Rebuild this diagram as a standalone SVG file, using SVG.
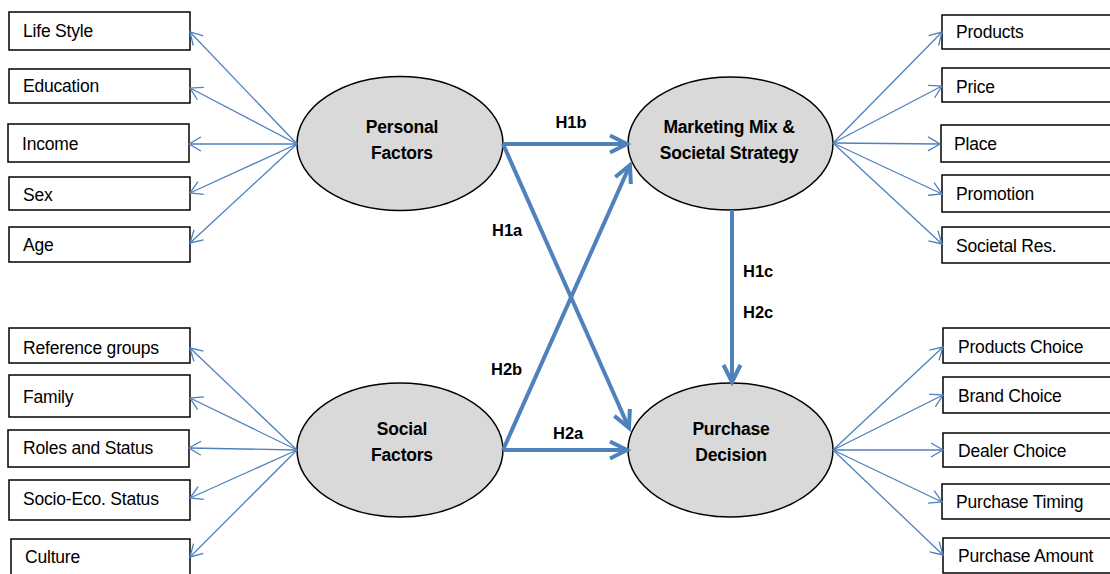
<svg xmlns="http://www.w3.org/2000/svg" width="1110" height="574" viewBox="0 0 1110 574">
<style>
.box{fill:#fff;stroke:#000;stroke-width:1.5}
.ell{fill:#D9D9D9;stroke:#000;stroke-width:1.5}
.bt{font-family:"Liberation Sans",Arial,sans-serif;font-size:17.5px;letter-spacing:-0.2px;fill:#000}
.et{font-family:"Liberation Sans",Arial,sans-serif;font-size:17.5px;font-weight:bold;letter-spacing:-0.2px;fill:#000;text-anchor:middle}
.ht{font-family:"Liberation Sans",Arial,sans-serif;font-size:16.5px;font-weight:bold;fill:#000}
.thin{stroke:#4F81BD;stroke-width:1.3;fill:none;marker-end:url(#mThin)}
.thick{stroke:#4F81BD;stroke-width:4;fill:none;marker-end:url(#mThick)}
</style>
<defs>
<marker id="mThin" markerUnits="userSpaceOnUse" viewBox="-14 -9 16 18" markerWidth="16" markerHeight="18" refX="0" refY="0" orient="auto" overflow="visible">
<path d="M-12,-7 L0,0 L-12,7" fill="none" stroke="#4F81BD" stroke-width="1.3"/>
</marker>
<marker id="mThick" markerUnits="userSpaceOnUse" viewBox="-20 -11 22 22" markerWidth="22" markerHeight="22" refX="0" refY="0" orient="auto" overflow="visible">
<path d="M-17,-8.5 L0,0 L-17,8.5" fill="none" stroke="#4F81BD" stroke-width="4" stroke-linejoin="miter"/>
</marker>
</defs>
<rect width="1110" height="574" fill="#fff"/>

<g id="n-lifestyle"><rect class="box" x="9" y="12" width="181" height="38"/><text class="bt" x="23" y="37">Life Style</text></g>
<g id="n-education"><rect class="box" x="9" y="69" width="181" height="34"/><text class="bt" x="23" y="92">Education</text></g>
<g id="n-income"><rect class="box" x="8" y="124" width="181" height="38"/><text class="bt" x="22" y="150">Income</text></g>
<g id="n-sex"><rect class="box" x="9" y="177" width="181" height="33"/><text class="bt" x="23" y="201">Sex</text></g>
<g id="n-age"><rect class="box" x="9" y="227" width="181" height="35"/><text class="bt" x="23" y="251">Age</text></g>

<g id="n-refgroups"><rect class="box" x="9" y="328" width="181" height="35"/><text class="bt" x="23" y="354">Reference groups</text></g>
<g id="n-family"><rect class="box" x="9" y="375" width="181" height="42"/><text class="bt" x="23" y="403">Family</text></g>
<g id="n-roles"><rect class="box" x="8" y="430" width="181" height="37"/><text class="bt" x="23" y="454">Roles and Status</text></g>
<g id="n-socio"><rect class="box" x="9" y="480" width="181" height="40"/><text class="bt" x="23" y="505">Socio-Eco. Status</text></g>
<g id="n-culture"><rect class="box" x="11" y="539" width="179" height="42"/><text class="bt" x="25" y="563">Culture</text></g>

<g id="n-products"><rect class="box" x="942" y="15" width="175" height="34"/><text class="bt" x="956" y="38">Products</text></g>
<g id="n-price"><rect class="box" x="942" y="68" width="175" height="34"/><text class="bt" x="956" y="93">Price</text></g>
<g id="n-place"><rect class="box" x="941" y="125" width="176" height="37"/><text class="bt" x="954" y="150">Place</text></g>
<g id="n-promotion"><rect class="box" x="942" y="175" width="175" height="37"/><text class="bt" x="956" y="200">Promotion</text></g>
<g id="n-societal"><rect class="box" x="942" y="227" width="175" height="36"/><text class="bt" x="956" y="252">Societal Res.</text></g>

<g id="n-prodchoice"><rect class="box" x="943" y="328" width="174" height="35"/><text class="bt" x="958" y="353">Products Choice</text></g>
<g id="n-brandchoice"><rect class="box" x="943" y="377" width="174" height="36"/><text class="bt" x="958" y="402">Brand Choice</text></g>
<g id="n-dealerchoice"><rect class="box" x="943" y="433" width="174" height="34"/><text class="bt" x="958" y="457">Dealer Choice</text></g>
<g id="n-timing"><rect class="box" x="942" y="484" width="175" height="35"/><text class="bt" x="956" y="508">Purchase Timing</text></g>
<g id="n-amount"><rect class="box" x="943" y="538" width="174" height="35"/><text class="bt" x="958" y="562">Purchase Amount</text></g>

<g id="n-personal"><ellipse class="ell" cx="400" cy="143.5" rx="103" ry="67"/><text class="et" x="402" y="133">Personal</text><text class="et" x="402" y="159">Factors</text></g>
<g id="n-marketing"><ellipse class="ell" cx="730.5" cy="143.5" rx="102.5" ry="66.5"/><text class="et" x="729" y="133">Marketing Mix &amp;</text><text class="et" x="729" y="159">Societal Strategy</text></g>
<g id="n-social"><ellipse class="ell" cx="400" cy="450" rx="103" ry="67"/><text class="et" x="402" y="435">Social</text><text class="et" x="402" y="461">Factors</text></g>
<g id="n-purchase"><ellipse class="ell" cx="730.5" cy="450" rx="102.5" ry="67"/><text class="et" x="731" y="435">Purchase</text><text class="et" x="731" y="461">Decision</text></g>

<g id="connectors">
<line class="thin" x1="297" y1="144" x2="190" y2="32"/>
<line class="thin" x1="297" y1="144" x2="190" y2="88"/>
<line class="thin" x1="297" y1="144" x2="189" y2="144"/>
<line class="thin" x1="297" y1="144" x2="190" y2="193"/>
<line class="thin" x1="297" y1="144" x2="190" y2="243"/>
<line class="thin" x1="297" y1="450" x2="190" y2="348"/>
<line class="thin" x1="297" y1="450" x2="190" y2="398"/>
<line class="thin" x1="297" y1="450" x2="189" y2="448"/>
<line class="thin" x1="297" y1="450" x2="190" y2="498"/>
<line class="thin" x1="297" y1="450" x2="190" y2="557"/>
<line class="thin" x1="833" y1="143" x2="942" y2="32"/>
<line class="thin" x1="833" y1="143" x2="942" y2="86"/>
<line class="thin" x1="833" y1="143" x2="940" y2="144"/>
<line class="thin" x1="833" y1="143" x2="942" y2="194"/>
<line class="thin" x1="833" y1="143" x2="942" y2="244"/>
<line class="thin" x1="833" y1="450" x2="943" y2="347"/>
<line class="thin" x1="833" y1="450" x2="943" y2="395"/>
<line class="thin" x1="833" y1="450" x2="943" y2="450"/>
<line class="thin" x1="833" y1="450" x2="942" y2="502"/>
<line class="thin" x1="833" y1="450" x2="943" y2="555"/>
<line class="thick" x1="503" y1="144" x2="627" y2="144"/>
<line class="thick" x1="503" y1="144" x2="629" y2="428"/>
<line class="thick" x1="503" y1="450" x2="630" y2="165"/>
<line class="thick" x1="503" y1="450" x2="627" y2="450"/>
<line class="thick" x1="732" y1="210" x2="732" y2="382"/>
<text class="ht" x="571" y="128" text-anchor="middle">H1b</text>
<text class="ht" x="492" y="236">H1a</text>
<text class="ht" x="743" y="277">H1c</text>
<text class="ht" x="743" y="318">H2c</text>
<text class="ht" x="491" y="375">H2b</text>
<text class="ht" x="553" y="439">H2a</text>
</g>
</svg>
